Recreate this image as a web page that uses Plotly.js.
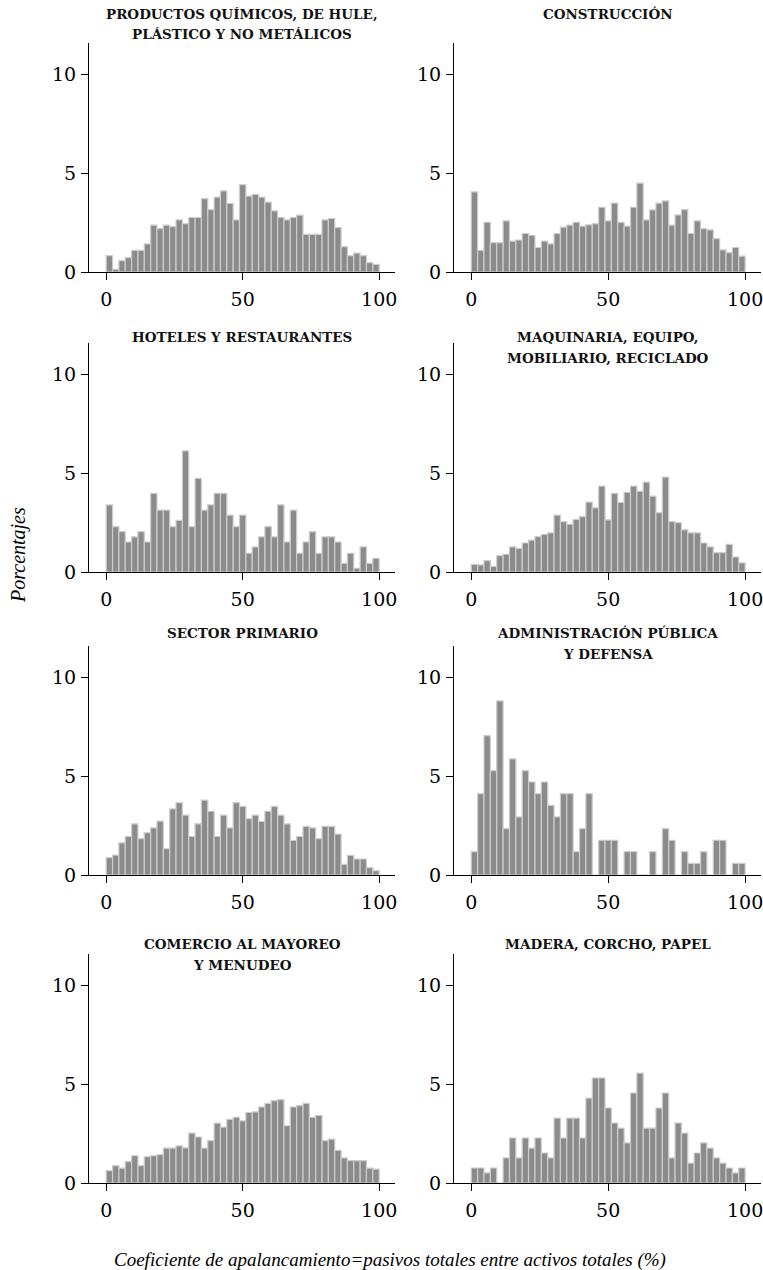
<!DOCTYPE html>
<html><head><meta charset="utf-8">
<script src="https://cdn.plot.ly/plotly-3.0.1.min.js"></script>
<style>html,body{margin:0;padding:0;background:#fff;overflow:hidden}#chart{width:763px;height:1270px}</style>
</head><body><div id="chart"></div>
<script>
// Percent of firms per leverage bin (43 equal bins over 0-100)
const quimicos = [0.83,0.14,0.58,0.73,1.10,1.10,1.42,2.37,2.20,2.37,2.30,2.64,2.45,2.76,2.76,3.72,3.16,3.79,4.11,3.47,2.64,4.43,3.84,3.93,3.79,3.54,3.10,2.76,2.64,2.76,2.88,1.91,1.91,1.91,2.64,2.71,2.25,1.29,0.83,0.96,0.83,0.47,0.39];
const construccion = [4.06,1.10,2.52,1.49,1.49,2.59,1.56,1.62,1.95,1.86,1.24,1.56,1.42,1.95,2.27,2.37,2.52,2.32,2.39,2.45,3.28,2.59,3.49,2.52,2.32,3.28,4.50,2.64,3.15,3.49,3.60,2.37,2.89,3.16,1.95,2.59,2.20,2.13,1.69,1.12,0.98,1.24,0.80];
const hoteles = [3.40,2.30,2.05,1.52,1.78,2.05,1.52,3.98,3.13,3.13,2.30,2.62,6.14,2.30,4.74,3.13,3.40,3.98,3.98,2.88,2.30,2.88,0.95,1.27,1.78,2.30,1.78,3.40,1.52,3.13,0.95,1.52,2.05,0.95,1.78,1.78,1.52,0.44,0.95,0.19,1.27,0.44,0.69];
const maquinaria = [0.39,0.36,0.58,0.29,0.83,0.90,1.27,1.20,1.47,1.61,1.79,1.91,1.98,2.88,2.55,2.42,2.67,2.81,3.54,3.25,4.35,2.64,3.98,3.52,4.04,4.35,4.09,4.55,3.84,3.01,4.81,2.55,2.50,2.13,1.98,1.98,1.47,1.27,0.98,0.98,1.40,0.76,0.46];
const primario = [0.88,1.01,1.63,1.95,2.59,1.84,2.14,2.39,2.73,1.33,3.35,3.67,3.03,1.95,2.59,3.79,3.23,1.95,3.03,2.39,3.67,3.48,2.85,3.03,2.71,3.23,3.48,3.03,2.59,1.75,1.95,2.46,2.39,1.84,2.46,2.46,2.07,0.54,0.99,0.81,0.81,0.37,0.22];
const administracion = [1.18,4.12,7.06,5.29,8.82,2.35,5.88,2.94,5.29,4.71,4.12,4.71,3.53,2.94,4.12,4.12,1.18,2.35,4.12,0,1.76,1.76,1.76,0,1.18,1.18,0,0,1.18,0,2.35,1.76,0,1.18,0.59,0.59,1.18,0,1.76,1.76,0,0.59,0.59];
const comercio = [0.63,0.88,0.75,1.08,1.38,0.88,1.33,1.38,1.43,1.77,1.77,1.88,1.78,2.53,2.33,1.77,2.15,3.03,2.83,3.22,3.33,3.15,3.57,3.60,3.85,4.03,4.17,4.22,2.90,3.85,3.92,4.03,3.33,3.42,2.15,2.22,1.65,1.27,1.13,1.13,1.13,0.75,0.70];
const madera = [0.76,0.76,0.51,0.76,0,1.27,2.28,1.27,2.28,1.77,2.28,1.52,1.27,3.29,2.28,3.29,3.29,2.28,4.30,5.32,5.32,3.80,3.04,2.78,2.03,4.56,5.57,2.78,2.78,3.80,4.56,1.27,3.04,2.53,1.01,1.52,2.03,1.77,1.27,1.01,0.76,0.51,0.76];

const panelTitles = [
  ["PRODUCTOS QUÍMICOS, DE HULE,", "PLÁSTICO Y NO METÁLICOS"],
  ["CONSTRUCCIÓN"],
  ["HOTELES Y RESTAURANTES"],
  ["MAQUINARIA, EQUIPO,", "MOBILIARIO, RECICLADO"],
  ["SECTOR PRIMARIO"],
  ["ADMINISTRACIÓN PÚBLICA", "Y DEFENSA"],
  ["COMERCIO AL MAYOREO", "Y MENUDEO"],
  ["MADERA, CORCHO, PAPEL"]
];
const xTickVals = [0, 50, 100];
const xTickText = ["0", "50", "100"];
const yTickVals = [0, 5, 10];
const yTickText = ["0", "5", "10"];
const xTitle = "Coeficiente de apalancamiento=pasivos totales entre activos totales (%)";
const yTitle = "Porcentajes";

const series = [quimicos, construccion, hoteles, maquinaria, primario, administracion, comercio, madera];
const binWidth = 100 / 43;

// layout geometry (pixels)
const W = 763, H = 1270;
const cols = [[89, 395], [454, 761]];
const baselines = [272, 572, 875, 1183];
const plotH = 229;
const titleTop = [14, 337, 633, 944];
const titleLineGap = 20.5;

const serif = "DejaVu Serif, Liberation Serif, serif";
const data = [];
const layout = {
  width: W, height: H, margin: {l:0, r:0, t:0, b:0},
  paper_bgcolor: "#fff", plot_bgcolor: "#fff",
  showlegend: false, bargap: 0,
  font: {family: serif, color: "#000"},
  annotations: []
};

series.forEach((vals, i) => {
  const n = i + 1;
  const row = Math.floor(i / 2), col = i % 2;
  const xs = vals.map((_, k) => (k + 0.5) * binWidth);
  data.push({
    type: "bar", x: xs, y: vals, width: binWidth,
    xaxis: "x" + n, yaxis: "y" + n,
    marker: {color: "#8b8b8b", line: {color: "#cdcdcd", width: 1.2}},
    hoverinfo: "skip"
  });
  const xd = [cols[col][0] / W, cols[col][1] / W];
  const yd = [(H - baselines[row]) / H, (H - baselines[row] + plotH) / H];
  layout["xaxis" + n] = {
    domain: xd, anchor: "y" + n, range: [-6.3, 105.8],
    showline: true, linecolor: "#000", linewidth: 1,
    ticks: "outside", ticklen: 7, tickwidth: 1, tickcolor: "#000",
    tickvals: xTickVals, ticktext: xTickText, ticklabelstandoff: 3,
    ticklabeloverflow: "allow",
    tickfont: {family: serif, size: 19, color: "#000"},
    showgrid: false, zeroline: false, fixedrange: true
  };
  layout["yaxis" + n] = {
    domain: yd, anchor: "x" + n, range: [0, 11.6],
    showline: true, linecolor: "#000", linewidth: 1,
    ticks: "outside", ticklen: 7, tickwidth: 1, tickcolor: "#000",
    tickvals: yTickVals, ticktext: yTickText, ticklabelstandoff: 1,
    tickfont: {family: serif, size: 19, color: "#000"},
    showgrid: false, zeroline: false, fixedrange: true
  };
  panelTitles[i].forEach((line, j) => {
    layout.annotations.push({
      text: "<b>" + line + "</b>",
      xref: "paper", yref: "paper",
      x: (cols[col][0] + cols[col][1]) / 2 / W,
      y: (H - (titleTop[row] + j * titleLineGap)) / H,
      xanchor: "center", yanchor: "middle", showarrow: false,
      font: {family: serif, size: 13.5, color: "#111"}
    });
  });
});

layout.annotations.push({
  text: "<i>" + xTitle + "</i>", xref: "paper", yref: "paper",
  x: 390 / W, y: (H - 1260) / H, xanchor: "center", yanchor: "middle",
  showarrow: false, font: {family: "Liberation Serif, serif", size: 19, color: "#000"}
});
layout.annotations.push({
  text: "<i>" + yTitle + "</i>", xref: "paper", yref: "paper",
  x: 18 / W, y: (H - 555) / H, xanchor: "center", yanchor: "middle",
  textangle: -90, showarrow: false,
  font: {family: "Liberation Serif, serif", size: 20, color: "#000"}
});

Plotly.newPlot("chart", data, layout, {staticPlot: true, displayModeBar: false});
</script></body></html>
